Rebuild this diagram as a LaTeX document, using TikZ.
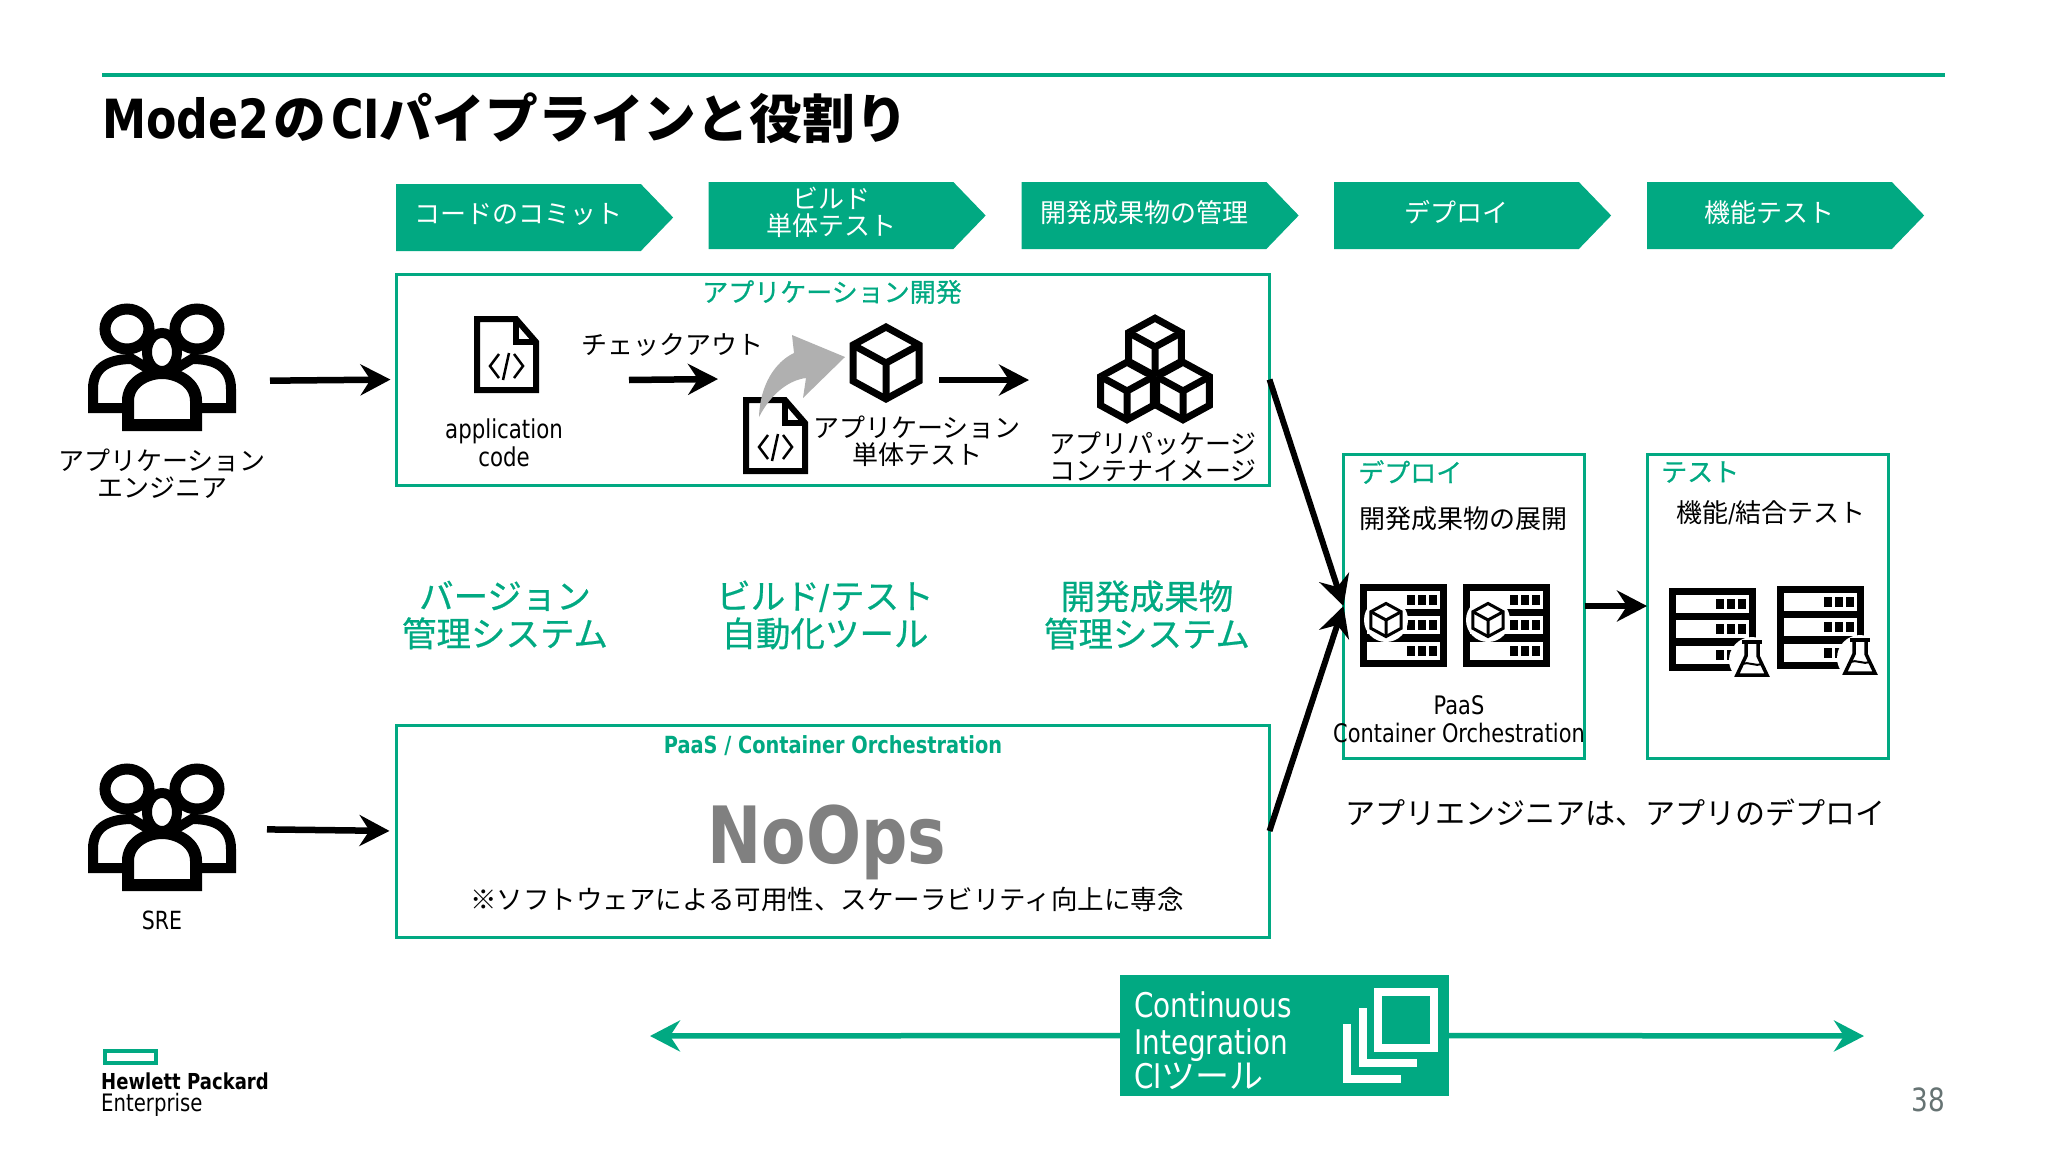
\documentclass[tikz,border=0pt]{standalone}
\usepackage{fontspec}
\setmainfont{Noto Sans CJK JP}
\newfontfamily\latfont{DejaVu Sans}[FakeStretch=0.82]
\newfontfamily\heavyfont{Noto Sans CJK JP}[FakeBold=0.6]
\usetikzlibrary{arrows.meta,shapes.symbols}
\definecolor{hpegreen}{HTML}{01A982}
\definecolor{hpegray}{HTML}{808080}
\definecolor{pagegray}{HTML}{667373}
\newcommand{\fsz}[1]{\fontsize{#1}{#1}\selectfont}
\newcommand{\latn}[1]{{\latfont #1}}
\tikzset{
  cubeicon/.pic={
    \draw[pic actions] (0,-36) -- (33,-18) -- (33,18) -- (0,36) -- (-33,18) -- (-33,-18) -- cycle;
    \draw[pic actions] (-33,-18) -- (0,0) -- (33,-18) (0,0) -- (0,36);
  },
  fileicon/.pic={
    \draw[line width=6pt, fill=white, line join=miter] (3,3) -- (42,3) -- (62,26) -- (62,74) -- (3,74) -- cycle;
    \draw[line width=6pt] (42,3) -- (42,26) -- (62,26);
    \draw[line width=2.5pt] (25,38) -- (16,50) -- (25,62) (40,38) -- (49,50) -- (40,62) (35,37) -- (29,64);
  },
  peopleicon/.pic={
    \foreach \s in {-1,1} {
      \draw[line width=11pt, fill=white] (\s*35,-38) ellipse (22pt and 20pt);
      \draw[line width=10pt, fill=white, line join=miter] (\s*69,41) -- (\s*69,22) .. controls (\s*69,-2) and (\s*50,-8) .. (\s*30,-8) -- (0,10) -- (\s*30,41) -- cycle;
    }
    \draw[line width=10pt, fill=white] (0,-15) ellipse (15pt and 19pt);
    \draw[line width=12pt, fill=white, line join=miter] (-34,58) -- (-34,34) .. controls (-34,16) and (-16,6) .. (0,6) .. controls (16,6) and (34,16) .. (34,34) -- (34,58) -- cycle;
  },
  rackicon/.pic={
    \fill[black] (0,0) rectangle (87,83);
    \foreach \y in {7,32,58} {
      \fill[white] (7,\y) rectangle (80,\y+18);
      \foreach \x in {47,58,69} \fill[black] (\x,\y+4) rectangle (\x+8,\y+14);
    }
  },
  flaskicon/.pic={
    \fill[white] (0,1) circle (23pt);
    \draw[line width=3.5pt, fill=white, line join=miter] (-6,-16) -- (-6,-3) -- (-15,16) -- (15,16) -- (6,-3) -- (6,-16);
    \draw[line width=3.5pt] (-10,-17) -- (10,-17);
    \draw[line width=2pt] (-10,5) .. controls (-4,2) and (4,8) .. (10,5);
  },
  iconline/.style={draw=black, fill=white, line width=7pt, line join=miter},
  smallcube/.style={draw=black, line width=3pt, line join=miter, scale=.46},
  holder/.style={inner sep=0pt, outer sep=0pt},
  greenbox/.style={draw=hpegreen, line width=3pt, inner sep=0pt, outer sep=0pt},
  chevron/.style={signal, signal to=east, signal pointer angle=92, fill=hpegreen, text=white,
                  minimum width=277pt, minimum height=67pt, inner sep=0pt, outer sep=0pt,
                  align=center, text depth=8pt, font=\fsz{26}},
  greenhead/.style={text=hpegreen, font=\fsz{26}\heavyfont, inner sep=0pt, align=center},
  bigtool/.style={text=hpegreen, font=\fsz{34.5}\heavyfont, inner sep=0pt, align=center},
  plain/.style={font=\fsz{26}, inner sep=0pt, align=center},
  blackarrow/.style={line width=6.5pt, -{Stealth[length=30pt,width=31pt,inset=10pt]}},
  greenarrow/.style={draw=hpegreen, line width=5.5pt, -{Stealth[length=30pt,width=31pt,inset=10pt]}, hpegreen}
}
\begin{document}
\begin{tikzpicture}[x=1pt, y=-1pt]
\useasboundingbox (0,0) rectangle (2048,1152);
\coordinate (ruleL) at (102,75);
\coordinate (ruleR) at (1945,75);
\draw[hpegreen, line width=3.5pt] (ruleL) -- (ruleR);
\node (title) at (102,118) [anchor=west, inner sep=0pt, font=\fsz{52.8}\bfseries] {{\fsz{54}\latn{Mode2}}\hspace*{4pt}の\hspace*{5pt}{\fsz{54}\latn{CI}}パイプラインと役割り};

% process steps
\node (st1) at (518.5,217.5) [chevron] {コードのコミット};
\node (st2) at (831,215.5) [chevron] {ビルド\\[1pt]単体テスト};
\node (st3) at (1144,215.5) [chevron] {開発成果物の管理};
\node (st4) at (1456.5,215.5) [chevron] {デプロイ};
\node (st5) at (1769.5,215.5) [chevron] {機能テスト};

% frames
\node (devbox) at (833,379.5) [greenbox, minimum width=873pt, minimum height=211pt] {};
\node (paasbox) at (833,831) [greenbox, minimum width=873pt, minimum height=212pt] {};
\node (deploybox) at (1464,606) [greenbox, minimum width=241pt, minimum height=304pt] {};
\node (testbox) at (1767.5,606) [greenbox, minimum width=241pt, minimum height=304pt] {};

\node (devhead) at (832,292) [greenhead] {アプリケーション開発};
\node (paashead) at (833,746) [greenhead, font=\fsz{23.6}\bfseries] {\latn{PaaS / Container Orchestration}};
\node (dephead) at (1358,472) [greenhead, anchor=west] {デプロイ};
\node (testhead) at (1661,472) [greenhead, anchor=west] {テスト};

% people
\pic at (162,367) {peopleicon};
\pic at (162,827) {peopleicon};
\node (eng) at (162,381) [holder, minimum width=148pt, minimum height=100pt] {};
\node (sre) at (162,829) [holder, minimum width=148pt, minimum height=100pt] {};
\node (englabel) at (162,474) [plain] {アプリケーション\\[1pt]エンジニア};
\node (srelabel) at (162,920) [plain, font=\fsz{25}] {\latn{SRE}};

% dev icons
\pic at (474,316) {fileicon};
\node (srcfile) at (506.5,381) [holder, minimum width=65pt, minimum height=24pt] {};
\node (srclabel) at (504,443) [plain] {\latn{application}\\[2pt]\latn{code}};
\node (checkout) at (672,345) [plain] {チェックアウト};
\coordinate (cotip) at (718,379);
\pic at (743,397) {fileicon};
\node (testfile) at (775,435) [holder, minimum width=65pt, minimum height=77pt] {};
\fill[black!31] (759,417) .. controls (760,385) and (775,362) .. (794,353) -- (792,335) -- (845,357) -- (803,398) -- (806,378) .. controls (790,380) and (772,392) .. (759,417) -- cycle;
\pic[iconline] at (886,363) {cubeicon};
\node (cube) at (886,380) [holder, minimum width=72pt, minimum height=44pt] {};
\node (cubelabel) at (917,441) [plain] {アプリケーション\\[1pt]単体テスト};
\pic[iconline, scale=.8] at (1155,347) {cubeicon};
\pic[iconline, scale=.8] at (1127,391) {cubeicon};
\pic[iconline, scale=.8] at (1183,391) {cubeicon};
\node (pack) at (1155,380) [holder, minimum width=112pt, minimum height=90pt] {};
\node (packlabel) at (1153,457) [plain] {アプリパッケージ\\[1pt]コンテナイメージ};

% tools
\node (vcs) at (505,615) [bigtool] {バージョン\\[3pt]管理システム};
\node (cibuild) at (825,615) [bigtool] {ビルド{\bfseries\latn{/}}テスト\\[3pt]自動化ツール};
\node (repo) at (1147,615) [bigtool] {開発成果物\\[3pt]管理システム};

% noops
\node (noops) at (827,842) [inner sep=0pt, text=hpegray, font=\fsz{79}\bfseries] {\latn{NoOps}};
\node (noopsnote) at (827,899) [plain, font=\fsz{26.5}] {※ソフトウェアによる可用性、スケーラビリティ向上に専念};

% deploy
\node (deptext) at (1463,519) [plain] {開発成果物の展開};
\pic at (1360,584) {rackicon};
\pic at (1463,584) {rackicon};
\fill[white] (1386,620) circle (22pt);
\fill[white] (1488,620) circle (22pt);
\pic[smallcube] at (1386,620) {cubeicon};
\pic[smallcube] at (1488,620) {cubeicon};
\node (deplabel) at (1459,719) [plain, font=\fsz{25.5}] {\latn{PaaS}\\[2pt]\latn{Container Orchestration}};

% test
\node (testtext) at (1771,513) [plain] {機能\latn{/}結合テスト};
\pic at (1669,588) {rackicon};
\pic at (1777,586) {rackicon};
\pic at (1752,659) {flaskicon};
\pic at (1860,657) {flaskicon};
\node (appnote) at (1615,813) [plain, font=\fsz{30}] {アプリエンジニアは、アプリのデプロイ};

% ci tool
\node (cibox) at (1284.5,1035.5) [inner sep=0pt, outer sep=0pt, fill=hpegreen, minimum width=329pt, minimum height=121pt] {};
\node (citext) at (1134,1041) [anchor=west, inner sep=0pt, text=white, align=left, font=\fsz{34}] {\latn{Continuous}\\[3pt]\latn{Integration}\\[0pt]\latn{CI}ツール};
\draw[white, line width=8pt, line join=miter] (1378,992) rectangle (1434,1048);
\draw[white, line width=8pt, line join=miter] (1362.5,1008) -- (1362.5,1063) -- (1417,1063);
\draw[white, line width=8pt, line join=miter] (1347,1024) -- (1347,1079) -- (1401,1079);
\coordinate (ciL) at (650,1036);
\coordinate (ciR) at (1864,1036);

% logo and page
\node (logomark) at (130.25,1057) [draw=hpegreen, line width=4pt, inner sep=0pt, minimum width=51pt, minimum height=12pt] {};
\node (logotext) at (101,1094.5) [anchor=west, inner sep=0pt, align=left, font=\fsz{22}] {{\bfseries\latn{Hewlett Packard}}\\[0pt]{\fsz{24}\latn{Enterprise}}};
\node (pagenum) at (1928,1100) [inner sep=0pt, text=pagegray, font=\fsz{32}] {\latn{38}};

% connectors
\draw[blackarrow, shorten <=34pt, shorten >=6pt] (eng.east) -- (devbox.west);
\draw[blackarrow, shorten <=31pt, shorten >=7pt] (sre.east) -- (paasbox.west);
\draw[blackarrow, shorten <=90pt] (srcfile.east) -- (cotip);
\draw[blackarrow, shorten <=17pt, shorten >=70pt] (cube.east) -- (pack.west);
\draw[blackarrow, line width=6pt] (devbox.east) -- (deploybox.west);
\draw[blackarrow, line width=6pt] (paasbox.east) -- (deploybox.west);
\draw[blackarrow] (deploybox.east) -- (testbox.west);
\draw[greenarrow] (cibox.west) -- (ciL);
\draw[greenarrow] (cibox.east) -- (ciR);
\end{tikzpicture}
\end{document}
